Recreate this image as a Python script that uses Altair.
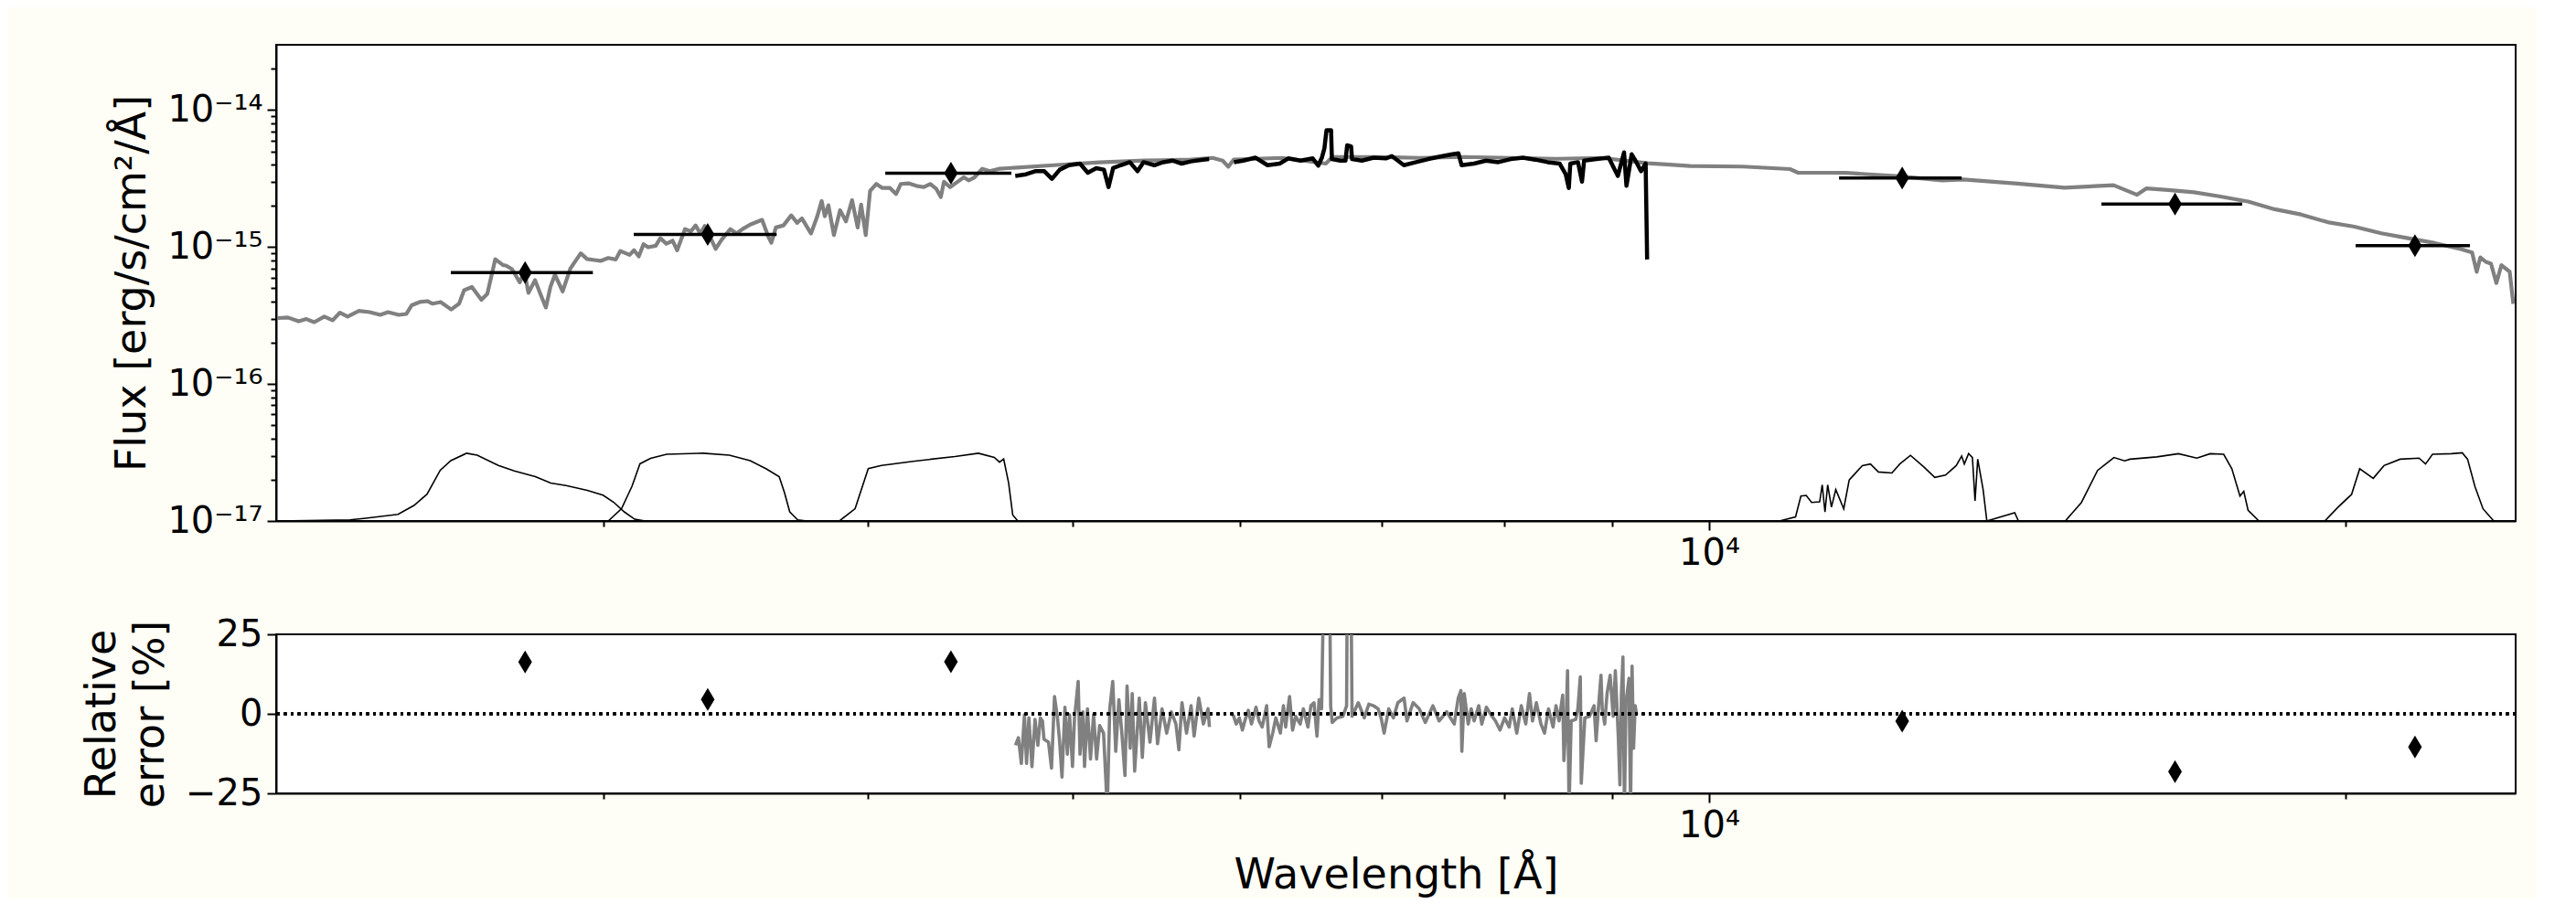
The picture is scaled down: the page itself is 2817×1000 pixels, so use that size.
import altair as alt
import pandas as pd

# ---------------- data ----------------
# Model SED (grey): wavelength [Angstrom], flux [1e-16 erg/s/cm2/A]
model_wave = [2104, 2127, 2152, 2170, 2189, 2213, 2233, 2251, 2270, 2298, 2325, 2352, 2372, 2400, 2420,
              2434, 2455, 2476, 2490, 2512, 2541, 2563, 2577, 2599, 2626, 2643, 2666, 2689, 2697, 2715,
              2738, 2752, 2764, 2784, 2801, 2817, 2831, 2845, 2869, 2893, 2926, 2946, 2970, 2990, 3015,
              3040, 3055, 3086, 3101, 3117, 3133, 3149, 3175, 3191, 3212, 3234, 3250, 3278, 3299, 3316,
              3333, 3349, 3366, 3389, 3411, 3444, 3467, 3490, 3519, 3565, 3589, 3601, 3619, 3649, 3680,
              3704, 3723, 3760, 3785, 3804, 3817, 3832, 3855, 3881, 3906, 3932, 3956, 3971, 3991, 4010,
              4037, 4064, 4098, 4125, 4146, 4181, 4217, 4252, 4281, 4310, 4331, 4346, 4375, 4411, 4441,
              4464, 4493, 4531, 4568, 4614, 4659, 4706, 4897, 5147, 5409, 5686, 5823, 5887, 5923, 5959,
              6281, 6587, 6634, 6939, 7293, 7666, 8057, 8469, 8901, 9356, 9544, 9796, 10374, 10920, 11018,
              11419, 11614, 12303, 12892, 13192, 13992, 14726, 15534, 15937, 16098, 16484, 16958, 17452,
              17986, 18511, 19053, 19614, 20193, 20795, 21408, 22040, 22693, 22955, 23070, 23163, 23302,
              23432, 23570, 23700, 23914, 24009]
model_flux = [3.03, 3.06, 2.87, 2.98, 2.83, 3.11, 2.92, 3.32, 3.11, 3.42, 3.35, 3.20, 3.35, 3.20, 3.25,
              3.76, 3.97, 4.03, 3.86, 3.97, 3.50, 3.86, 4.84, 5.11, 4.12, 4.55, 8.16, 7.37, 7.33, 6.90,
              5.53, 6.61, 4.63, 5.73, 4.51, 3.62, 5.12, 6.29, 4.75, 6.97, 9.0, 8.19, 8.04, 7.93, 8.33,
              8.12, 9.37, 8.77, 9.48, 8.55, 10.48, 9.97, 10.23, 11.6, 10.59, 11.14, 9.48, 13.54, 13.0, 14.39,
              12.56, 14.24, 12.2, 9.71, 11.31, 13.54, 12.56, 13.54, 14.6, 15.8, 11.94, 10.75, 13.9, 14.39, 17.05,
              15.02, 16.2, 12.56, 16.6, 21.7, 16.8, 20.2, 12.23, 18.6, 15.4, 22.0, 13.9, 20.4, 12.23, 25.7,
              28.9, 27.0, 27.0, 24.4, 28.9, 29.2, 28.0, 27.4, 28.9, 26.6, 23.2, 30.0, 27.4, 30.0, 32.3,
              30.7, 32.3, 37.3, 35.8, 37.3, 37.7, 38.1, 39.6, 41.55, 42.8, 43.5, 44.8, 42.8, 38.6, 43.5,
              44.8, 40.7, 45.5, 45.5, 44.8, 45.5, 44.8, 44.1, 44.8, 40.9, 40.1, 39.1, 38.7, 37.1, 34.9,
              34.9, 34.8, 32.9, 30.7, 31.2, 29.1, 27.1, 28.3, 24.1, 26.8, 26.1, 25.1, 23.4,
              21.5, 18.9, 17.3, 15.2, 14.1, 12.6, 11.6, 10.7, 9.64, 9.13, 6.6, 8.42, 7.8,
              7.56, 5.47, 7.38, 6.61, 3.85]

# Observed spectrum (black), two pieces, flux [1e-16]
obs_wave_1 = [4697, 4752, 4800, 4848, 4888, 4930, 4980, 5040, 5083, 5130, 5173, 5199, 5225, 5268, 5321,
              5366, 5401, 5465, 5519, 5574, 5630, 5686, 5762, 5801]
obs_flux_1 = [33.1, 34.0, 35.8, 35.8, 31.5, 36.75, 39.6, 40.7, 34.9, 37.7, 36.75, 27.4, 37.7, 39.6, 41.7,
              35.8, 41.7, 39.6, 41.7, 42.8, 40.7, 42.2, 43.5, 43.9]
obs_wave_2 = [5960, 6020, 6100, 6182, 6264, 6323, 6408, 6494, 6533, 6559, 6577, 6592, 6625, 6631, 6692,
              6730, 6742, 6771, 6778, 6851, 6939, 7032, 7078, 7172, 7268, 7364, 7462, 7561, 7611, 7637,
              7740, 7843, 7948, 8057, 8165, 8275, 8387, 8497, 8554, 8583, 8597, 8669, 8707, 8727, 8845,
              8964, 9054, 9115, 9139, 9191, 9238, 9285, 9332, 9347]
obs_flux_2 = [41.7, 42.8, 45.0, 39.6, 40.7, 44.4, 42.8, 44.4, 39.3, 45.0, 52.5, 71.4, 71.4, 43.9, 42.8,
              42.8, 55.3, 54.4, 43.9, 42.8, 45.0, 44.4, 46.2, 39.6, 41.7, 43.9, 45.8, 47.6, 48.3, 39.6,
              40.7, 42.8, 41.7, 43.9, 45.0, 43.5, 41.7, 40.7, 34.0, 27.0, 40.7, 41.7, 30.0, 42.8, 43.9,
              45.0, 33.1, 49.1, 28.0, 47.6, 41.7, 35.8, 40.7, 8.12]

# Photometry: effective wavelength, filter extent, flux [1e-15], relative error [%]
phot_wave = [2754, 3360, 4379, 12340, 16610, 21570]
phot_lo = [2540, 3100, 4077, 11520, 15330, 20220]
phot_hi = [2965, 3622, 4677, 13166, 17870, 22900]
phot_flux = [0.652, 1.236, 3.46, 3.19, 2.06, 1.023]
phot_resid = [16.3, 4.5, 16.4, -2.3, -18.2, -10.4]

# Filter transmission curves drawn on the flux axis, [1e-17]
f1_wave = [2104, 2276, 2315, 2398, 2440, 2475, 2511, 2540, 2584, 2614, 2675, 2722, 2785, 2832, 2880,
           2947, 2998, 3033, 3068, 3103, 3139]
f1_flux = [1.0, 1.02, 1.047, 1.117, 1.298, 1.568, 2.347, 2.757, 3.124, 3.025, 2.543, 2.322, 2.109, 1.894,
           1.813, 1.672, 1.542, 1.370, 1.166, 1.03, 1.0]
f2_wave = [3015, 3059, 3094, 3121, 3157, 3213, 3344, 3440, 3519, 3580, 3632, 3653, 3674, 3706, 3743]
f2_flux = [1.0, 1.230, 1.792, 2.616, 2.865, 3.072, 3.124, 3.025, 2.757, 2.409, 2.109, 1.610, 1.166, 1.018, 1.0]
f3_wave = [3878, 3945, 4002, 4060, 4202, 4398, 4512, 4591, 4617, 4638, 4663, 4684, 4710]
f3_flux = [1.0, 1.230, 2.409, 2.543, 2.729, 2.958, 3.124, 2.911, 2.688, 2.834, 1.894, 1.105, 1.0]
f4_wave = [10796, 10987, 11051, 11115, 11181, 11279, 11311, 11345, 11378, 11425, 11479, 11579, 11648,
           11816, 11921, 12025, 12202, 12308, 12452, 12638, 12786, 12936, 13088, 13166, 13204, 13266,
           13321, 13359, 13398, 13477, 13532, 13949, 14006]
f4_flux = [1.0, 1.072, 1.521, 1.537, 1.366, 1.380, 1.836, 1.162, 1.836, 1.261, 1.696, 1.227, 1.992,
           2.539, 2.606, 2.280, 2.243, 2.606, 3.015, 2.471, 2.081, 2.162, 2.539, 2.981, 2.606, 3.11,
           2.905, 1.404, 2.826, 1.696, 1.0, 1.15, 1.0]
f5_wave = [14739, 15000, 15266, 15541, 15724, 15816, 16284, 16672, 17009, 17259, 17514, 17670, 17827,
           17901, 17986, 18199]
f5_flux = [1.0, 1.366, 2.340, 2.905, 2.751, 2.826, 2.937, 3.099, 2.875, 3.099, 3.069, 2.405, 1.521,
           1.649, 1.195, 1.0]
f6_wave = [19552, 19837, 20131, 20310, 20612, 20855, 21224, 21667, 21820, 21987, 22445, 22710, 22842,
           23026, 23230, 23502]
f6_flux = [1.0, 1.261, 1.563, 2.405, 2.048, 2.539, 2.826, 2.875, 2.606, 3.069, 3.099, 3.147, 2.826,
           1.786, 1.227, 1.0]

# Spectrum relative error [%], two pieces
res_wave_1 = [4698, 4713, 4728, 4744, 4755, 4767, 4783, 4799, 4814, 4827, 4838, 4846, 4870, 4886, 4902,
              4918, 4929, 4942, 4958, 4971, 4983, 4999, 5010, 5030, 5040, 5056, 5065, 5081, 5098, 5115,
              5132, 5149, 5171, 5192, 5206, 5223, 5240, 5258, 5275, 5293, 5305, 5323, 5335, 5349, 5376,
              5394, 5412, 5439, 5466, 5484, 5511, 5539, 5567, 5595, 5613, 5632, 5660, 5688, 5707, 5736,
              5765, 5794, 5803]
res_val_1 = [-9.88, -7.49, -15.6, -0.32, -15.6, -1.27, -16.6, -1.75, -9.88, -1.27, -2.23, -7.97, -8.92, -17.05, 5.42,
             -1.27, -8.45, -19.9, 2.07, -12.7, -0.32, -16.6, -1.27, 10.2, -12.7, 0.64, -16.6, 1.59, -14.2, -0.32,
             -14.2, -3.66, -6.06, -30.0, 1.59, 10.2, -11.8, 4.46, -6.06, -19.4, 8.77, -10.8, 6.38, -18.0, 4.94,
             -13.7, 3.51, -8.92, 4.94, -9.40, 1.59, -6.06, 0.64, -3.19, -11.3, 3.51, -6.06, 2.55, -7.01, 4.94,
             -3.19, 1.59, -4.14]
res_wave_2 = [5955, 5975, 5995, 6015, 6034, 6054, 6075, 6105, 6125, 6146, 6176, 6193, 6217, 6238, 6269,
              6290, 6305, 6332, 6353, 6374, 6406, 6428, 6460, 6481, 6503, 6524, 6539, 6557, 6579, 6611,
              6622, 6633, 6667, 6711, 6738, 6745, 6767, 6778, 6824, 6869, 6903, 6938, 6973, 6996, 7019,
              7054, 7090, 7125, 7173, 7196, 7244, 7293, 7341, 7402, 7452, 7514, 7576, 7609, 7631, 7639,
              7659, 7692, 7717, 7742, 7781, 7807, 7846, 7885, 7924, 7963, 8003, 8043, 8070, 8110, 8150,
              8190, 8223, 8250, 8285, 8326, 8359, 8395, 8437, 8464, 8492, 8526, 8537, 8557, 8571, 8585,
              8605, 8648, 8668, 8691, 8700, 8734, 8778, 8822, 8842, 8866, 8889, 8901, 8925, 8948, 8978,
              9008, 9029, 9059, 9074, 9089, 9104, 9119, 9134, 9164, 9180, 9195, 9210, 9226, 9241]
res_val_2 = [-0.32, -3.19, -1.27, -5.10, -1.75, 1.12, -3.19, 2.07, -2.23, -4.14, 2.55, -10.36, -6.06, -1.27, -6.06,
             2.55, -4.14, 5.42, -5.10, -0.80, -3.19, 1.59, -4.14, 2.55, 3.51, -7.01, 4.46, 1.59, 60.0, 60.0,
             2.55, -2.71, -1.27, -0.80, 2.55, 60.0, 60.0, -0.80, 3.51, -1.27, 3.03, 2.55, 1.59, -1.27, -6.06,
             1.59, -1.27, 3.51, 4.94, -2.23, 3.51, 1.59, -2.71, 2.55, -2.23, 0.64, -3.19, 4.94, 7.33, -11.8,
             6.38, -3.19, 1.59, -2.23, 2.55, -3.19, 2.07, -0.32, -2.23, -5.10, -1.27, -4.14, 1.59, -6.06, 2.55,
             -3.19, 6.38, -2.23, 3.51, -3.19, -6.06, 1.59, -4.14, 2.55, -2.23, 5.90, -14.7, -3.19, 13.55, -30.0,
             -2.23, -1.75, 1.59, 11.64, -21.8, -1.27, -0.80, 2.55, -8.45, 2.55, 12.11, 1.59, -3.19, 6.38, 12.11,
             -0.80, 13.55, -7.97, -22.3, 6.38, 17.85, -30.0, 3.51, 11.16, -30.0, 14.98, -10.8, 2.55, -0.32]

# axis ticks
x_ticks = [3000, 4000, 5000, 6000, 7000, 8000, 9000, 10000, 20000]
y_ticks_top = [1e-17, 2e-17, 3e-17, 4e-17, 5e-17, 6e-17, 7e-17, 8e-17, 9e-17,
               1e-16, 2e-16, 3e-16, 4e-16, 5e-16, 6e-16, 7e-16, 8e-16, 9e-16,
               1e-15, 2e-15, 3e-15, 4e-15, 5e-15, 6e-15, 7e-15, 8e-15, 9e-15,
               1e-14, 2e-14]
y_ticks_bot = [-25, 0, 25]

# ---------------- tables ----------------
model_df = pd.DataFrame({"lam": model_wave, "flux": [v * 1e-16 for v in model_flux]})
obs_df = pd.concat([
    pd.DataFrame({"lam": obs_wave_1, "flux": [v * 1e-16 for v in obs_flux_1], "seg": "a"}),
    pd.DataFrame({"lam": obs_wave_2, "flux": [v * 1e-16 for v in obs_flux_2], "seg": "b"}),
])
phot_df = pd.DataFrame({"lam": phot_wave, "lo": phot_lo, "hi": phot_hi,
                        "flux": [v * 1e-15 for v in phot_flux], "resid": phot_resid})
filt_parts = []
for name, w, f in [("f1", f1_wave, f1_flux), ("f2", f2_wave, f2_flux), ("f3", f3_wave, f3_flux),
                   ("f4", f4_wave, f4_flux), ("f5", f5_wave, f5_flux), ("f6", f6_wave, f6_flux)]:
    filt_parts.append(pd.DataFrame({"lam": w, "flux": [v * 1e-17 for v in f], "band": name}))
filt_df = pd.concat(filt_parts)
res_df = pd.concat([
    pd.DataFrame({"lam": res_wave_1, "val": res_val_1, "seg": "a"}),
    pd.DataFrame({"lam": res_wave_2, "val": res_val_2, "seg": "b"}),
])

# ---------------- scales & axes ----------------
W = 2449
xs = alt.Scale(type="log", domain=[2100, 24070], nice=False)
ys_top = alt.Scale(type="log", domain=[1e-17, 3e-14], nice=False)
ys_bot = alt.Scale(domain=[-25, 25], nice=False)

x_major = "datum.value == 10000"
x_axis_kw = dict(values=x_ticks, labelExpr="datum.value == 10000 ? '10⁴' : ''",
                 tickSize={"condition": {"test": x_major, "value": 10}, "value": 6},
                 labelFlush=False, labelOverlap=False, grid=False, labelPadding=5)
x_axis_top = alt.Axis(title=None, **x_axis_kw)
x_axis_bot = alt.Axis(title="Wavelength [Å]", titlePadding=12, **x_axis_kw)

y_major = "abs(log(datum.value)/LN10 - round(log(datum.value)/LN10)) < 0.01"
y_axis_top = alt.Axis(
    values=y_ticks_top, title="Flux [erg/s/cm²/Å]",
    labelExpr="abs(log(datum.value)/LN10 - round(log(datum.value)/LN10)) < 0.01 ? "
              "'10⁻' + ['¹⁷','¹⁶','¹⁵','¹⁴'][round(log(datum.value)/LN10) + 17] : ''",
    tickSize={"condition": {"test": y_major, "value": 10}, "value": 6},
    labelFlush=False, labelOverlap=False, grid=False, labelPadding=5, titlePadding=14)
y_axis_bot = alt.Axis(
    values=y_ticks_bot, title=["Relative", "error [%]"],
    labelExpr="datum.value < 0 ? '−' + abs(datum.value) : '' + datum.value",
    tickSize=10, labelFlush=False, labelOverlap=False, grid=False, labelPadding=5,
    titlePadding=14, titleLineHeight=53)

diamond = "M0,-1L0.6,0L0,1L-0.6,0Z"

# ---------------- top panel ----------------
filters = alt.Chart(filt_df).mark_line(color="black", strokeWidth=1.6, clip=True).encode(
    x=alt.X("lam:Q", scale=xs, axis=x_axis_top),
    y=alt.Y("flux:Q", scale=ys_top, axis=y_axis_top),
    detail="band:N")
model = alt.Chart(model_df).mark_line(color="#808080", strokeWidth=4.2, clip=True,
                                      strokeJoin="round").encode(
    x=alt.X("lam:Q", scale=xs, axis=x_axis_top),
    y=alt.Y("flux:Q", scale=ys_top, axis=y_axis_top))
obs = alt.Chart(obs_df).mark_line(color="black", strokeWidth=4.5, clip=True,
                                  strokeJoin="round").encode(
    x=alt.X("lam:Q", scale=xs, axis=x_axis_top),
    y=alt.Y("flux:Q", scale=ys_top, axis=y_axis_top),
    detail="seg:N")
bars = alt.Chart(phot_df).mark_rule(color="black", strokeWidth=3.5).encode(
    x=alt.X("lo:Q", scale=xs, axis=x_axis_top), x2="hi:Q",
    y=alt.Y("flux:Q", scale=ys_top, axis=y_axis_top))
pts = alt.Chart(phot_df).mark_point(shape=diamond, filled=True, size=625, color="black",
                                    opacity=1, strokeWidth=0).encode(
    x=alt.X("lam:Q", scale=xs, axis=x_axis_top),
    y=alt.Y("flux:Q", scale=ys_top, axis=y_axis_top))
top = alt.layer(filters, model, obs, bars, pts).properties(width=W, height=521)

# ---------------- bottom panel ----------------
res_line = alt.Chart(res_df).mark_line(color="#808080", strokeWidth=3.6, clip=True,
                                       strokeJoin="round").encode(
    x=alt.X("lam:Q", scale=xs, axis=x_axis_bot),
    y=alt.Y("val:Q", scale=ys_bot, axis=y_axis_bot),
    detail="seg:N")
zero = alt.Chart(phot_df).mark_rule(color="black", strokeWidth=3, strokeDash=[3, 4.5]).encode(
    y=alt.datum(0, scale=ys_bot, axis=y_axis_bot))
res_pts = alt.Chart(phot_df).mark_point(shape=diamond, filled=True, size=625, color="black",
                                        opacity=1, strokeWidth=0).encode(
    x=alt.X("lam:Q", scale=xs, axis=x_axis_bot),
    y=alt.Y("resid:Q", scale=ys_bot, axis=y_axis_bot))
bottom = alt.layer(res_line, zero, res_pts).properties(width=W, height=174)

chart = alt.vconcat(top, bottom, spacing=47).properties(
    padding={"left": 79, "top": 40, "right": 20, "bottom": 2}
).configure(
    background="#fefef6", font="DejaVu Sans"
).configure_view(
    stroke="black", strokeWidth=2, fill="white"
).configure_axis(
    labelFont="DejaVu Sans", titleFont="DejaVu Sans",
    labelFontSize=40, titleFontSize=46, titleFontWeight="normal",
    labelColor="black", titleColor="black", domainColor="black", domainWidth=2,
    tickColor="black", tickWidth=2
)

chart.save("out.html", embed_options={"renderer": "svg", "actions": False})
